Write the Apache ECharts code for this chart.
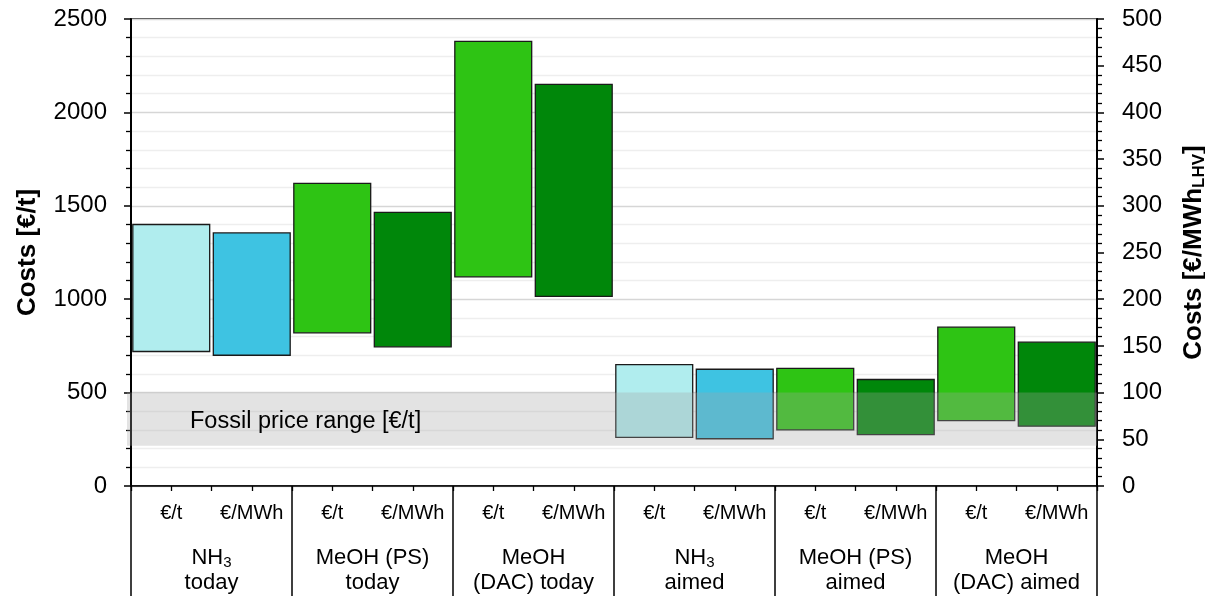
<!DOCTYPE html>
<html><head><meta charset="utf-8">
<script src="https://cdn.jsdelivr.net/npm/echarts@6/dist/echarts.min.js"></script>
<style>html,body{margin:0;padding:0;background:#fff}#c{width:1205px;height:596px}</style>
</head><body><div id="c"></div>
<script>
// Units per bar column
const unitLabels = ['€/t','€/MWh','€/t','€/MWh','€/t','€/MWh','€/t','€/MWh','€/t','€/MWh','€/t','€/MWh'];
// Groups (bottom labels)
const groupLabels = ['{n|NH}{s|3}\n{n|today}','{n|MeOH (PS)}\n{n|today}','{n|MeOH}\n{n|(DAC) today}','{n|NH}{s|3}\n{n|aimed}','{n|MeOH (PS)}\n{n|aimed}','{n|MeOH}\n{n|(DAC) aimed}'];
// Cost ranges in €/t (left axis) per group: [low, high]
const costPerTonLow  = [720, 820, 1120, 260, 300, 350];
const costPerTonHigh = [1400, 1620, 2380, 650, 630, 850];
// Cost ranges in €/MWh_LHV (right axis) per group
const costPerMWhLow  = [140, 149, 203, 50.6, 55, 64];
const costPerMWhHigh = [271, 293, 430, 125, 114, 154];
// Fossil price range in €/t
const fossilRange = [215, 500];
const fossilLabel = 'Fossil price range [€/t]';
// Tick labels
const leftTicks = {min:0, max:2500, interval:500};
const rightTicks = {min:0, max:500, interval:50};

const colT = ['#b0edee','#2ec414','#2ec414','#b0edee','#2ec414','#2ec414'];
const colM = ['#3ec3e2','#00870a','#00870a','#3ec3e2','#00870a','#00870a'];

const dataT = costPerTonLow.map((lo,i)=>[2*i, lo, costPerTonHigh[i], i]);
const dataM = costPerMWhLow.map((lo,i)=>[2*i+1, lo, costPerMWhHigh[i], i]);

function makeRender(cols){
  return function(params, api){
    const x = api.value(0);
    const p1 = api.coord([x, api.value(2)]);
    const p0 = api.coord([x, api.value(1)]);
    const w = api.size([1,0])[0]*0.955;
    return {type:'rect', shape:{x:p1[0]-w/2, y:p1[1], width:w, height:p0[1]-p1[1]},
      style:{fill:cols[api.value(3)], stroke:'#1a1a1a', lineWidth:1.3}};
  };
}

const font = 'Liberation Sans, Arial, sans-serif';
const chart = echarts.init(document.getElementById('c'), null, {renderer:'canvas'});
chart.setOption({
  animation:false,
  textStyle:{fontFamily:font},
  grid:{left:131, right:108, top:19, bottom:110, show:true, borderColor:'#000', borderWidth:1.5,
        backgroundColor:'transparent', containLabel:false, outerBoundsMode:'none'},
  xAxis:[
    {type:'category', data:unitLabels, position:'bottom',
     axisLine:{show:true, lineStyle:{color:'#000', width:1.5}},
     axisTick:{show:false},
     axisLabel:{color:'#000', fontSize:20, margin:17, interval:0, fontFamily:font},
     splitLine:{show:false}},
    {type:'category', data:unitLabels.flatMap(u=>[u,u]), position:'bottom', gridIndex:0,
     axisLine:{show:false}, axisTick:{show:true, interval:0, length:5, lineStyle:{color:'#000', width:1.3}},
     axisLabel:{show:false}, splitLine:{show:false}},
    {type:'category', data:groupLabels, position:'bottom', gridIndex:0,
     axisLine:{show:false}, axisTick:{show:true, interval:0, length:112, lineStyle:{color:'#000', width:1.5}},
     axisLabel:{show:true, interval:0, margin:59, color:'#000', fontFamily:font,
       rich:{n:{fontSize:22, color:'#000', lineHeight:25, fontFamily:font},
             s:{fontSize:15, color:'#000', verticalAlign:'bottom', padding:[12,0,0,0], lineHeight:25, fontFamily:font}}},
     splitLine:{show:false}}
  ],
  yAxis:[
    {type:'value', min:leftTicks.min, max:leftTicks.max, interval:leftTicks.interval, position:'left',
     name:'Costs [€/t]', nameLocation:'middle', nameGap:90, nameRotate:90,
     nameTextStyle:{fontSize:26, fontWeight:'bold', color:'#000', fontFamily:font},
     axisLine:{show:true, lineStyle:{color:'#000', width:2}},
     axisTick:{show:true, length:7, lineStyle:{color:'#000', width:1.5}},
     minorTick:{show:true, splitNumber:5, length:5, lineStyle:{color:'#000', width:1.3}},
     axisLabel:{color:'#000', fontSize:24, margin:24, fontFamily:font, formatter:v=>String(v)},
     splitLine:{show:true, lineStyle:{color:'#d6d6d6', width:1.3}},
     minorSplitLine:{show:true, lineStyle:{color:'#eeeeee', width:1.3}}},
    {type:'value', min:rightTicks.min, max:rightTicks.max, interval:rightTicks.interval, position:'right',
     name:'{a|Costs [€/MWh}{b|LHV}{a|]}', nameLocation:'middle', nameGap:82, nameRotate:90,
     nameTextStyle:{fontSize:26, fontWeight:'bold', color:'#000', fontFamily:font,
       rich:{a:{fontSize:26, fontWeight:'bold', color:'#000', fontFamily:font},
             b:{fontSize:17, fontWeight:'bold', color:'#000', fontFamily:font, verticalAlign:'bottom', padding:[12,0,0,0]}}},
     axisLine:{show:true, lineStyle:{color:'#000', width:2}},
     axisTick:{show:true, length:7, lineStyle:{color:'#000', width:1.5}},
     minorTick:{show:true, splitNumber:5, length:5, lineStyle:{color:'#000', width:1.3}},
     axisLabel:{color:'#000', fontSize:24, margin:25, fontFamily:font, formatter:v=>String(v)},
     splitLine:{show:false}}
  ],
  series:[
    {type:'custom', name:'€/t', xAxisIndex:0, yAxisIndex:0, renderItem:makeRender(colT), data:dataT, z:2,
     encode:{x:0, y:[1,2]}},
    {type:'custom', name:'€/MWh', xAxisIndex:0, yAxisIndex:1, renderItem:makeRender(colM), data:dataM, z:2,
     encode:{x:0, y:[1,2]}},
    {type:'custom', name:'fossil', xAxisIndex:0, yAxisIndex:0, z:5, silent:true,
     data:[[0, fossilRange[0], fossilRange[1]]],
     encode:{y:[1,2]},
     renderItem:function(params, api){
       const cs = params.coordSys;
       const yLo = api.coord([0, api.value(1)])[1];
       const yHi = api.coord([0, api.value(2)])[1];
       return {type:'group', children:[
         {type:'rect', shape:{x:cs.x-4, y:yHi, width:cs.width+4, height:yLo-yHi},
          style:{fill:'rgba(164,164,164,0.31)'}},
         {type:'text', x:cs.x+59, y:(yLo+yHi)/2+2,
          style:{text:fossilLabel, fill:'#000', fontSize:23.5, fontFamily:font, verticalAlign:'middle', align:'left'}}
       ]};
     }}
  ]
});
</script></body></html>
